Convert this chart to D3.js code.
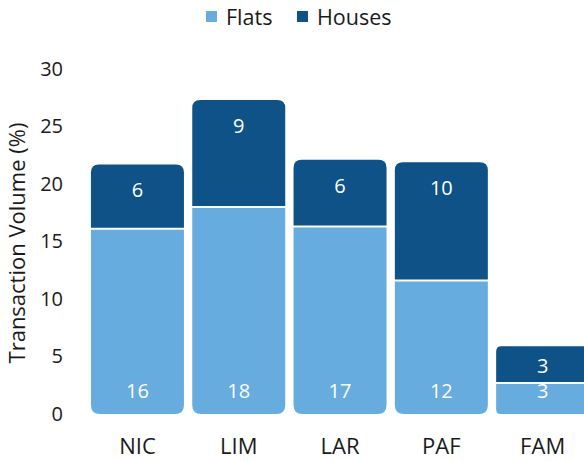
<!DOCTYPE html>
<html>
<head>
<meta charset="utf-8">
<script src="https://cdn.jsdelivr.net/npm/d3@7"></script>
<style>
  body { margin: 0; background: #fff; }
  text { font-family: "Open Sans", sans-serif; }
</style>
</head>
<body>
<svg class="chart"></svg>
<script>
// values
var regions = ['NIC', 'LIM', 'LAR', 'PAF', 'FAM']
var flats = [16.1, 18.0, 16.3, 11.6, 2.7]
var houses = [5.6, 9.3, 5.8, 10.3, 3.2]
var flatsLabels = ['16', '18', '17', '12', '3']
var housesLabels = ['6', '9', '6', '10', '3']
var yTicks = [0, 5, 10, 15, 20, 25, 30]

var colors = {flats: '#66acdf', houses: '#0e5288'}

var w = 584, h = 461

var svg = d3.select('.chart')
    .attr('width', w)
    .attr('height', h)

var x = d3.scaleBand()
    .domain(regions)
    .range([86.8, 593.3])
    .paddingInner(0.082)
    .paddingOuter(0.041)

var y = d3.scaleLinear()
    .domain([0, 30])
    .range([414, 69])

var rows = regions.map(function(r, i) {
  return {region: r, flats: flats[i], houses: houses[i], fl: flatsLabels[i], hl: housesLabels[i]}
})

// rounded on top only or on bottom only
function segPath(x0, y0, x1, y1, r, top) {
  var p = d3.path()
  if (top) {
    p.moveTo(x0, y1)
    p.lineTo(x0, y0 + r)
    p.quadraticCurveTo(x0, y0, x0 + r, y0)
    p.lineTo(x1 - r, y0)
    p.quadraticCurveTo(x1, y0, x1, y0 + r)
    p.lineTo(x1, y1)
  } else {
    p.moveTo(x0, y0)
    p.lineTo(x1, y0)
    p.lineTo(x1, y1 - r)
    p.quadraticCurveTo(x1, y1, x1 - r, y1)
    p.lineTo(x0 + r, y1)
    p.quadraticCurveTo(x0, y1, x0, y1 - r)
  }
  p.closePath()
  return p.toString()
}

var bars = svg.append('g').selectAll('g')
    .data(rows)
  .enter().append('g')

bars.append('path')
    .attr('fill', colors.flats)
    .attr('d', function(d) {
      var x0 = x(d.region), x1 = x0 + x.bandwidth()
      var top = y(d.flats) + 1, bot = y(0)
      return segPath(x0, top, x1, bot, Math.min(9, (bot - top) * 0.15), false)
    })

bars.append('path')
    .attr('fill', colors.houses)
    .attr('d', function(d) {
      var x0 = x(d.region), x1 = x0 + x.bandwidth()
      var top = y(d.flats + d.houses), bot = y(d.flats) - 1
      return segPath(x0, top, x1, bot, Math.min(8, (bot - top) * 0.15), true)
    })

bars.append('text')
    .attr('x', function(d) { return x(d.region) + x.bandwidth() / 2 })
    .attr('y', y(0) - 23)
    .attr('dy', '0.35em')
    .attr('text-anchor', 'middle')
    .attr('fill', '#fff')
    .style('font-size', '20px')
    .text(function(d) { return d.fl })

bars.append('text')
    .attr('x', function(d) { return x(d.region) + x.bandwidth() / 2 })
    .attr('y', function(d) {
      var top = y(d.flats + d.houses), bot = y(d.flats)
      return Math.min(top + 26, (top + bot) / 2 + 1)
    })
    .attr('dy', '0.35em')
    .attr('text-anchor', 'middle')
    .attr('fill', '#fff')
    .style('font-size', '20px')
    .text(function(d) { return d.hl })

// y axis: labels only
var yAxis = svg.append('g')
    .attr('transform', 'translate(63,0)')
    .call(d3.axisLeft(y).tickValues(yTicks).tickSize(0).tickPadding(0))
yAxis.select('.domain').remove()
yAxis.selectAll('text')
    .attr('fill', '#1a1a1a')
    .style('font-size', '20px')
    .style('font-family', '"Open Sans", sans-serif')

// x axis: labels only
var xAxis = svg.append('g')
    .attr('transform', 'translate(0,' + 446 + ')')
    .call(d3.axisBottom(x).tickSize(0).tickPadding(0))
xAxis.select('.domain').remove()
xAxis.selectAll('text')
    .attr('dy', '0.35em')
    .attr('fill', '#1a1a1a')
    .style('font-size', '22px')
    .style('font-family', '"Open Sans", sans-serif')

svg.append('text')
    .attr('transform', 'translate(17,243) rotate(-90)')
    .attr('text-anchor', 'middle')
    .attr('dy', '0.35em')
    .attr('fill', '#1a1a1a')
    .style('font-size', '22px')
    .text('Transaction Volume (%)')

// legend
var legend = [
  {name: 'Flats', color: colors.flats, x: 206},
  {name: 'Houses', color: colors.houses, x: 297}
]
var lg = svg.append('g').selectAll('g')
    .data(legend)
  .enter().append('g')
    .attr('transform', function(d) { return 'translate(' + d.x + ',0)' })
lg.append('rect')
    .attr('y', 11)
    .attr('width', 11)
    .attr('height', 11)
    .attr('fill', function(d) { return d.color })
lg.append('text')
    .attr('x', 20)
    .attr('y', 17)
    .attr('dy', '0.35em')
    .attr('fill', '#1a1a1a')
    .style('font-size', '21.5px')
    .text(function(d) { return d.name })
</script>
</body>
</html>
